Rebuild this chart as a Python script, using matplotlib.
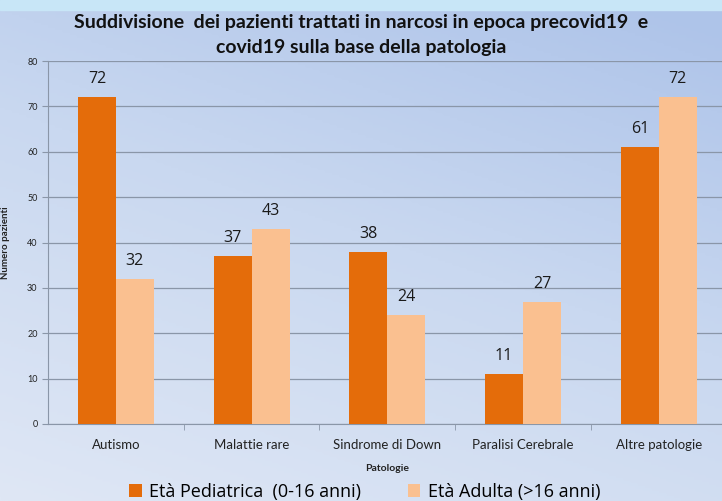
import numpy as np
import matplotlib.pyplot as plt
from matplotlib.colors import LinearSegmentedColormap

categorie = ['Autismo', 'Malattie rare', 'Sindrome di Down', 'Paralisi Cerebrale', 'Altre patologie']
pediatrica = [72, 37, 38, 11, 61]
adulta = [32, 43, 24, 27, 72]
serie_nomi = ['Età Pediatrica  (0-16 anni)', 'Età Adulta (>16 anni)']
col_ped = '#E46C0A'
col_adu = '#FAC090'

plt.rcParams['font.family'] = ['Lato', 'DejaVu Sans']

fig = plt.figure(figsize=(7.22, 5.01), dpi=100)

# sfondo a gradiente (diagonale, piu' scuro in alto a destra)
bg = fig.add_axes([0, 0, 1, 1], zorder=-10)
yy, xx = np.mgrid[0:1:200j, 0:1:300j]
t = np.clip(0.7 * (1 - yy) + 0.35 * xx, 0, 1)
cmap = LinearSegmentedColormap.from_list('bg', ['#dfe7f5', '#c9d8f0', '#a9c0e8'])
bg.imshow(t, cmap=cmap, aspect='auto', extent=[0, 1, 0, 1], origin='upper', vmin=0, vmax=1.1)
bg.axhspan(0.98, 1.0, color='#c8e6f7')
bg.set_xlim(0, 1)
bg.set_ylim(0, 1)
bg.axis('off')

ax = fig.add_axes([0.0665, 0.1537, 0.94, 0.7243])
ax.set_facecolor('none')
x = np.arange(len(categorie))
w = 0.28
b1 = ax.bar(x - w / 2, pediatrica, w, color=col_ped, label=serie_nomi[0], zorder=3)
b2 = ax.bar(x + w / 2, adulta, w, color=col_adu, label=serie_nomi[1], zorder=3)
for bars in (b1, b2):
    for r in bars:
        ax.text(r.get_x() + r.get_width() / 2, r.get_height() + 2.2, f'{int(r.get_height())}',
                ha='center', va='bottom', fontsize=11.5, color='#1a1a1a', family='Open Sans')

ax.set_xlim(-0.5, 4.5)
ax.set_ylim(0, 80)
ax.set_yticks(range(0, 81, 10))
ax.yaxis.grid(True, color='#8a96a8', linewidth=0.9, zorder=0)
ax.set_xticks(x)
ax.set_xticklabels(categorie, fontsize=9.5, color='#222222')
ax.set_xticks(np.arange(0.5, 4.5, 1), minor=True)
ax.tick_params(axis='x', which='major', length=0, pad=11)
ax.tick_params(axis='x', which='minor', length=4, color='#8a96a8')
ax.tick_params(axis='y', labelsize=6.5, length=4, color='#8a96a8', labelcolor='#222222')
for s in ['top', 'right']:
    ax.spines[s].set_visible(False)
ax.spines['left'].set_color('#8a96a8')
ax.spines['bottom'].set_color('#8a96a8')
ax.set_xlabel('Patologie', fontsize=7.5, fontweight='bold', color='#222222', labelpad=9)
ax.set_ylabel('Numero pazienti', fontsize=7, fontweight='bold', color='#222222', labelpad=12)

fig.text(0.5, 0.955, 'Suddivisione  dei pazienti trattati in narcosi in epoca precovid19  e',
         ha='center', va='center', fontsize=14, fontweight='bold', color='#111111')
fig.text(0.5, 0.905, 'covid19 sulla base della patologia',
         ha='center', va='center', fontsize=14, fontweight='bold', color='#111111')

fig.legend(handles=[b1, b2], loc='center', bbox_to_anchor=(0.505, 0.018), ncol=2,
           frameon=False, handlelength=0.7, handleheight=0.7,
           handletextpad=0.4, columnspacing=2.6, prop={'family': 'Open Sans', 'size': 13})

fig.savefig('out.png', dpi=100)
